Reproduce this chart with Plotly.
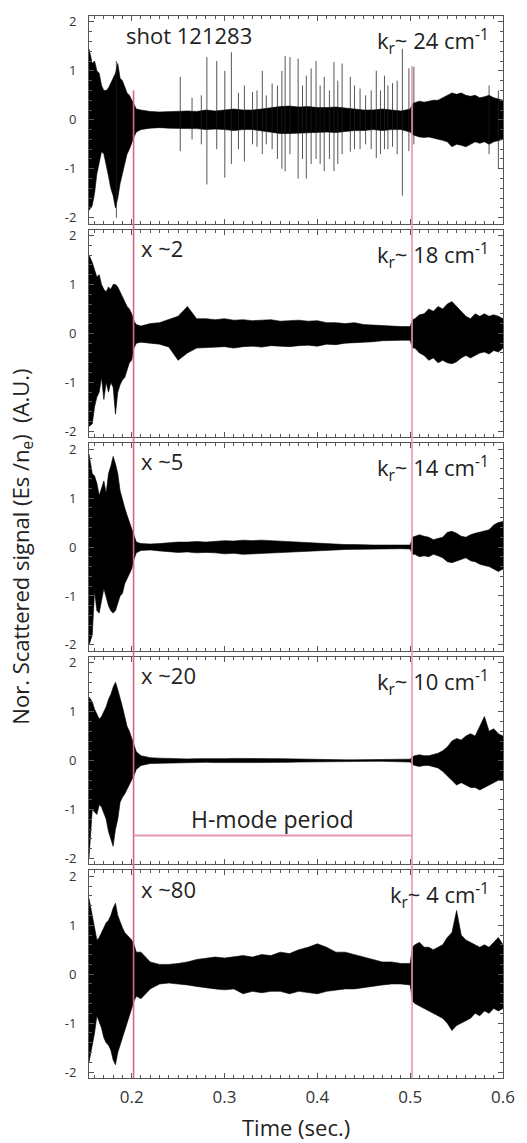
import plotly.graph_objects as go

# ---------------- data ----------------
# time grid (s): fine at the L-H transition, coarse in H-mode, medium after back-transition
T = [0.154, 0.1575, 0.16, 0.1625, 0.165, 0.1675, 0.17, 0.1725, 0.175, 0.1775,
     0.18, 0.1825, 0.185, 0.1875, 0.19, 0.1925, 0.195, 0.1975, 0.2, 0.2025, 0.205,
     0.21, 0.22, 0.23, 0.24, 0.25, 0.26, 0.27, 0.28, 0.29, 0.30,
     0.31, 0.32, 0.33, 0.34, 0.35, 0.36, 0.37, 0.38, 0.39, 0.40,
     0.41, 0.42, 0.43, 0.44, 0.45, 0.46, 0.47, 0.48, 0.49, 0.50,
     0.5025, 0.505, 0.51, 0.515, 0.52, 0.525, 0.53, 0.535, 0.54, 0.545,
     0.55, 0.555, 0.56, 0.565, 0.57, 0.575, 0.58, 0.585, 0.59, 0.595, 0.6]

# upper / lower envelope of the scattered signal, k_r ~ 24 cm^-1 (shot 121283)
U1 = [1.45, 1.15, 1.2, 1.0, 0.95, 0.7, 0.6, 0.6, 0.65, 0.75, 0.85, 0.95, 1.15, 0.85, 0.8, 0.65, 0.55, 0.5, 0.4, 0.3, 0.22,
      0.2, 0.17, 0.16, 0.17, 0.18, 0.18, 0.17, 0.2, 0.18, 0.2, 0.22, 0.2, 0.2, 0.22, 0.25, 0.27, 0.28, 0.26, 0.27, 0.25,
      0.25, 0.26, 0.24, 0.22, 0.2, 0.2, 0.22, 0.2, 0.18, 0.22,
      0.33, 0.35, 0.38, 0.36, 0.38, 0.4, 0.4, 0.45, 0.5, 0.55, 0.52, 0.55, 0.5, 0.48, 0.5, 0.45, 0.47, 0.5, 0.45, 0.42, 0.4]
L1 = [-1.85, -1.75, -1.5, -1.1, -0.85, -0.65, -0.7, -0.9, -1.15, -1.4, -1.55, -1.8, -1.6, -1.3, -1.1, -0.9, -0.7, -0.6, -0.5, -0.35, -0.25,
      -0.2, -0.17, -0.16, -0.17, -0.18, -0.18, -0.18, -0.2, -0.19, -0.2, -0.22, -0.2, -0.2, -0.22, -0.25, -0.28, -0.28, -0.27, -0.27, -0.26,
      -0.25, -0.26, -0.24, -0.22, -0.22, -0.2, -0.22, -0.2, -0.2, -0.25,
      -0.3, -0.32, -0.35, -0.36, -0.35, -0.38, -0.4, -0.42, -0.45, -0.55, -0.5, -0.52, -0.55, -0.5, -0.45, -0.48, -0.45, -0.5, -0.45, -0.42, -0.4]

# k_r ~ 18 cm^-1 (x ~2)
U2 = [1.6, 1.45, 1.3, 1.15, 1.2, 1.0, 0.9, 0.85, 0.95, 0.9, 1.0, 1.0, 0.95, 0.85, 0.75, 0.65, 0.55, 0.5, 0.4, 0.25, 0.18,
      0.15, 0.2, 0.22, 0.28, 0.35, 0.55, 0.3, 0.3, 0.28, 0.3, 0.27, 0.28, 0.26, 0.27, 0.28, 0.25, 0.26, 0.27, 0.25, 0.26,
      0.22, 0.22, 0.2, 0.22, 0.18, 0.17, 0.16, 0.14, 0.14, 0.14,
      0.28, 0.3, 0.38, 0.4, 0.5, 0.45, 0.55, 0.5, 0.6, 0.65, 0.55, 0.45, 0.35, 0.3, 0.4, 0.35, 0.4, 0.35, 0.38, 0.35, 0.3]
L2 = [-1.9, -1.85, -1.5, -1.3, -1.2, -0.9, -1.35, -1.0, -1.2, -1.0, -1.1, -1.65, -1.2, -1.05, -0.95, -0.9, -0.75, -0.6, -0.55, -0.3, -0.2,
      -0.18, -0.2, -0.22, -0.28, -0.55, -0.4, -0.3, -0.3, -0.28, -0.27, -0.3, -0.27, -0.26, -0.28, -0.25, -0.26, -0.27, -0.25, -0.24, -0.26,
      -0.22, -0.23, -0.2, -0.2, -0.18, -0.17, -0.15, -0.14, -0.14, -0.14,
      -0.3, -0.3, -0.4, -0.45, -0.55, -0.5, -0.6, -0.55, -0.6, -0.62, -0.58, -0.5, -0.45, -0.5, -0.45, -0.4, -0.38, -0.42, -0.35, -0.38, -0.3]

# k_r ~ 14 cm^-1 (x ~5)
U3 = [1.9, 1.5, 1.45, 1.3, 1.05, 1.2, 1.35, 1.1, 1.5, 1.65, 1.85, 1.7, 1.5, 1.15, 0.95, 0.8, 0.65, 0.5, 0.35, 0.2, 0.1,
      0.07, 0.06, 0.07, 0.09, 0.1, 0.1, 0.11, 0.1, 0.12, 0.13, 0.12, 0.14, 0.13, 0.14, 0.13, 0.12, 0.1, 0.1, 0.09, 0.08,
      0.07, 0.06, 0.05, 0.05, 0.04, 0.04, 0.04, 0.035, 0.035, 0.04,
      0.2, 0.22, 0.25, 0.22, 0.2, 0.15, 0.17, 0.2, 0.3, 0.32, 0.28, 0.22, 0.2, 0.25, 0.28, 0.3, 0.32, 0.35, 0.45, 0.5, 0.52]
L3 = [-2.0, -1.8, -0.9, -1.3, -1.35, -1.1, -0.85, -1.0, -1.2, -1.3, -1.35, -1.3, -1.15, -1.0, -0.95, -0.75, -0.65, -0.55, -0.45, -0.25, -0.12,
      -0.07, -0.06, -0.08, -0.1, -0.11, -0.1, -0.12, -0.11, -0.12, -0.14, -0.13, -0.15, -0.14, -0.14, -0.13, -0.12, -0.11, -0.1, -0.09, -0.08,
      -0.07, -0.06, -0.05, -0.05, -0.04, -0.04, -0.04, -0.035, -0.035, -0.04,
      -0.15, -0.15, -0.2, -0.18, -0.2, -0.15, -0.18, -0.22, -0.3, -0.32, -0.28, -0.25, -0.22, -0.28, -0.3, -0.35, -0.38, -0.4, -0.45, -0.5, -0.45]

# k_r ~ 10 cm^-1 (x ~20)
U4 = [1.3, 1.2, 1.05, 0.95, 0.85, 0.9, 1.0, 1.1, 1.25, 1.35, 1.5, 1.6, 1.45, 1.3, 1.1, 0.9, 0.7, 0.6, 0.45, 0.3, 0.18,
      0.1, 0.06, 0.05, 0.04, 0.035, 0.035, 0.04, 0.035, 0.04, 0.04, 0.045, 0.04, 0.04, 0.045, 0.04, 0.04, 0.035, 0.03, 0.025, 0.02,
      0.02, 0.015, 0.015, 0.015, 0.015, 0.015, 0.015, 0.015, 0.02, 0.03,
      0.08, 0.1, 0.12, 0.1, 0.1, 0.12, 0.15, 0.2, 0.28, 0.4, 0.45, 0.42, 0.5, 0.55, 0.5, 0.7, 0.9, 0.6, 0.65, 0.55, 0.5]
L4 = [-2.0, -1.0, -1.05, -1.1, -0.9, -0.95, -1.05, -1.2, -1.45, -1.6, -1.75, -1.4, -1.2, -0.85, -0.75, -0.68, -0.6, -0.5, -0.4, -0.3, -0.18,
      -0.1, -0.06, -0.05, -0.04, -0.035, -0.035, -0.04, -0.035, -0.04, -0.04, -0.045, -0.04, -0.04, -0.045, -0.04, -0.04, -0.035, -0.03, -0.025, -0.02,
      -0.02, -0.015, -0.015, -0.015, -0.015, -0.015, -0.015, -0.015, -0.02, -0.03,
      -0.08, -0.1, -0.12, -0.1, -0.1, -0.12, -0.15, -0.22, -0.3, -0.4, -0.5, -0.45, -0.5, -0.55, -0.55, -0.6, -0.55, -0.5, -0.45, -0.4, -0.4]

# k_r ~ 4 cm^-1 (x ~80)
U5 = [1.55, 1.2, 1.0, 0.7, 0.75, 0.85, 0.95, 1.05, 1.1, 1.2, 1.35, 1.45, 1.2, 1.05, 0.95, 0.85, 0.8, 0.75, 0.7, 0.6, 0.45,
      0.45, 0.25, 0.2, 0.2, 0.22, 0.25, 0.3, 0.32, 0.35, 0.33, 0.35, 0.38, 0.35, 0.4, 0.38, 0.45, 0.42, 0.5, 0.55, 0.62,
      0.55, 0.45, 0.45, 0.4, 0.35, 0.3, 0.25, 0.25, 0.22, 0.22,
      0.55, 0.6, 0.65, 0.55, 0.55, 0.5, 0.55, 0.6, 0.75, 0.85, 1.3, 0.8, 0.7, 0.65, 0.6, 0.55, 0.6, 0.55, 0.65, 0.75, 0.6]
L5 = [-1.8, -1.45, -1.2, -0.85, -0.95, -1.1, -1.3, -1.4, -1.45, -1.55, -1.75, -1.85, -1.6, -1.4, -1.3, -1.1, -0.95, -0.8, -0.7, -0.55, -0.45,
      -0.5, -0.3, -0.2, -0.18, -0.2, -0.22, -0.25, -0.28, -0.3, -0.32, -0.3, -0.4, -0.35, -0.38, -0.35, -0.35, -0.4, -0.35, -0.38, -0.4,
      -0.35, -0.32, -0.3, -0.3, -0.28, -0.25, -0.22, -0.2, -0.2, -0.22,
      -0.55, -0.6, -0.65, -0.7, -0.75, -0.8, -0.85, -0.9, -1.0, -1.15, -1.05, -1.0, -0.95, -0.9, -0.8, -0.85, -0.75, -0.8, -0.7, -0.75, -0.7]

# intermittent bursts (thin spikes) in the top channel
SPIKE_T = [0.1835, 0.2523, 0.265, 0.275, 0.281, 0.2916, 0.3003, 0.3074, 0.315, 0.3214,
           0.3302, 0.335, 0.3407, 0.345, 0.3513, 0.357, 0.3618, 0.3653, 0.3705, 0.3793,
           0.384, 0.3881, 0.3933, 0.3986, 0.403, 0.4074, 0.413, 0.4179, 0.422, 0.4267,
           0.4355, 0.44, 0.446, 0.452, 0.458, 0.4635, 0.468, 0.4723, 0.476, 0.481,
           0.486, 0.4916, 0.4986, 0.504, 0.585, 0.595]
SPIKE_HI = [1.2, 0.88, 0.45, 0.5, 1.28, 1.2, 1.0, 1.38, 0.55, 0.7,
            0.57, 0.6, 1.0, 0.5, 0.74, 0.7, 1.0, 1.3, 1.28, 1.25,
            0.7, 0.9, 1.05, 1.2, 0.7, 0.88, 0.6, 1.18, 0.8, 1.15,
            0.88, 0.7, 0.64, 0.5, 0.6, 1.0, 0.6, 0.9, 0.7, 0.75,
            0.8, 1.45, 1.05, 1.08, 0.7, 0.6]
SPIKE_LO = [-2.0, -0.64, -0.4, -0.5, -1.32, -0.6, -1.18, -0.9, -0.6, -0.85,
            -0.5, -0.55, -0.7, -0.5, -0.6, -0.8, -1.0, -1.05, -0.7, -1.2,
            -0.8, -1.2, -0.9, -0.8, -0.9, -1.05, -0.8, -1.05, -0.9, -0.7,
            -0.65, -0.6, -0.6, -0.5, -0.6, -0.78, -0.7, -0.6, -0.6, -0.55,
            -0.7, -1.55, -0.64, -0.5, -0.7, -1.0]

LEFT_LABELS = ["shot 121283", "x ~2", "x ~5", "x ~20", "x ~80"]
KR_VALUES = [24, 18, 14, 10, 4]
H_MODE = [0.202, 0.502]          # L-H and H-L transition times
H_MODE_LINE_TOP = [0.6, 1.1]     # where the marker lines start in the top panel
H_MODE_BAR_Y = -1.53

X_TICKS = [0.2, 0.3, 0.4, 0.5, 0.6]
Y_TICKS = [2, 1, 0, -1, -2]
Y_TICKTEXT = ["2", "1", "0", "-1", "-2"]

UPPER = [U1, U2, U3, U4, U5]
LOWER = [L1, L2, L3, L4, L5]
for a in UPPER + LOWER:
    assert len(a) == len(T), len(a)
assert len(SPIKE_T) == len(SPIKE_HI) == len(SPIKE_LO)

# ---------------- figure ----------------
W, H = 527, 1143
ML, MR, MT, MB = 89, 14, 12, 65
XR = [0.154, 0.6]
YR = [-2.12, 2.12]
PINK = "#d9648a"
PINK_LIGHT = "#e597b1"
FONT = "Open Sans"
AX = "#555555"
TXT = "#222222"

plot_h = H - MT - MB
gap = 6.0
ph = (plot_h - 4 * gap) / 5
domains = []
for i in range(5):
    top_px = i * (ph + gap)
    domains.append([1 - (top_px + ph) / plot_h, 1 - top_px / plot_h])

fig = go.Figure()
for i in range(5):
    xs = T + T[::-1]
    ys = UPPER[i] + LOWER[i][::-1]
    fig.add_trace(go.Scatter(x=xs, y=ys, mode="lines", fill="toself",
                             fillcolor="black", line=dict(color="black", width=0.6),
                             xaxis=f"x{i+1}", yaxis=f"y{i+1}",
                             hoverinfo="skip", showlegend=False))

sx, sy = [], []
for t, hi, lo in zip(SPIKE_T, SPIKE_HI, SPIKE_LO):
    sx += [t, t, None]
    sy += [lo, hi, None]
fig.add_trace(go.Scatter(x=sx, y=sy, mode="lines",
                         line=dict(color="rgba(30,30,30,0.75)", width=1),
                         xaxis="x", yaxis="y", hoverinfo="skip", showlegend=False))

layout = dict(width=W, height=H, margin=dict(l=ML, r=MR, t=MT, b=MB),
              paper_bgcolor="white", plot_bgcolor="white",
              font=dict(family=FONT, color=TXT), showlegend=False)

for i in range(5):
    sfx = "" if i == 0 else str(i + 1)
    xa = dict(
        range=XR, domain=[0, 1], anchor=f"y{i+1}",
        tickvals=X_TICKS, ticktext=[f"{v:.1f}" for v in X_TICKS],
        showticklabels=(i == 4), ticks="inside", ticklen=5, tickcolor=AX,
        minor=dict(dtick=0.01, ticks="inside", ticklen=3, tickcolor=AX),
        showline=True, linecolor=AX, linewidth=1, mirror="allticks",
        showgrid=False, zeroline=False,
        tickfont=dict(size=17, color="#333"), ticklabelstandoff=4)
    if i:
        xa["matches"] = "x"
    layout[f"xaxis{sfx}"] = xa
    layout[f"yaxis{sfx}"] = dict(
        range=YR, domain=domains[i], anchor=f"x{i+1}",
        tickvals=Y_TICKS, ticktext=Y_TICKTEXT,
        ticks="inside", ticklen=5, tickcolor=AX,
        minor=dict(dtick=0.2, ticks="inside", ticklen=3, tickcolor=AX),
        showline=True, linecolor=AX, linewidth=1, mirror="allticks",
        showgrid=False, zeroline=False,
        tickfont=dict(size=13, color="#333"), ticklabelstandoff=9)

annotations = []
for i in range(5):
    annotations.append(dict(xref=f"x{i+1}", yref=f"y{i+1}", x=0.2074 if i else 0.1916,
                            y=1.75 if i else 1.73, text=LEFT_LABELS[i], showarrow=False,
                            xanchor="left", yanchor="middle",
                            font=dict(size=22, color=TXT)))
    annotations.append(dict(xref=f"x{i+1}", yref=f"y{i+1}", x=0.587, y=1.6,
                            text=f"k<sub>r</sub>~ {KR_VALUES[i]} cm<sup>-1</sup>",
                            showarrow=False, xanchor="right", yanchor="middle",
                            font=dict(size=22, color=TXT)))
annotations.append(dict(xref="x4", yref="y4", x=(H_MODE[0] + H_MODE[1]) / 2, y=-1.2,
                        text="H-mode period", showarrow=False, xanchor="center",
                        yanchor="middle", font=dict(size=23, color=TXT)))
annotations.append(dict(xref="paper", yref="paper", x=(20 - ML) / (W - ML - MR), y=0.5,
                        text="Nor. Scattered signal (Es /n<sub>e</sub>)  (A.U.)",
                        textangle=-90, showarrow=False, xanchor="center", yanchor="middle",
                        font=dict(size=22, color=TXT)))
annotations.append(dict(xref="paper", yref="paper", x=0.5, y=-(1127 - (H - MB)) / plot_h,
                        text="Time (sec.)", showarrow=False, xanchor="center",
                        yanchor="middle", font=dict(size=22, color=TXT)))
layout["annotations"] = annotations

shapes = []
d0 = domains[0]
for k, (tx, ytop) in enumerate(zip(H_MODE, H_MODE_LINE_TOP)):
    frac = d0[0] + (ytop - YR[0]) / (YR[1] - YR[0]) * (d0[1] - d0[0])
    shapes.append(dict(type="line", xref="x5", yref="paper", x0=tx, x1=tx,
                       y0=domains[4][0], y1=frac,
                       line=dict(color=PINK if k == 0 else PINK_LIGHT, width=1.6),
                       layer="above"))
shapes.append(dict(type="line", xref="x4", yref="y4", x0=H_MODE[0], x1=H_MODE[1],
                   y0=H_MODE_BAR_Y, y1=H_MODE_BAR_Y,
                   line=dict(color=PINK_LIGHT, width=1.8), layer="above"))
layout["shapes"] = shapes

fig.update_layout(**layout)
fig.write_html("out.html")
